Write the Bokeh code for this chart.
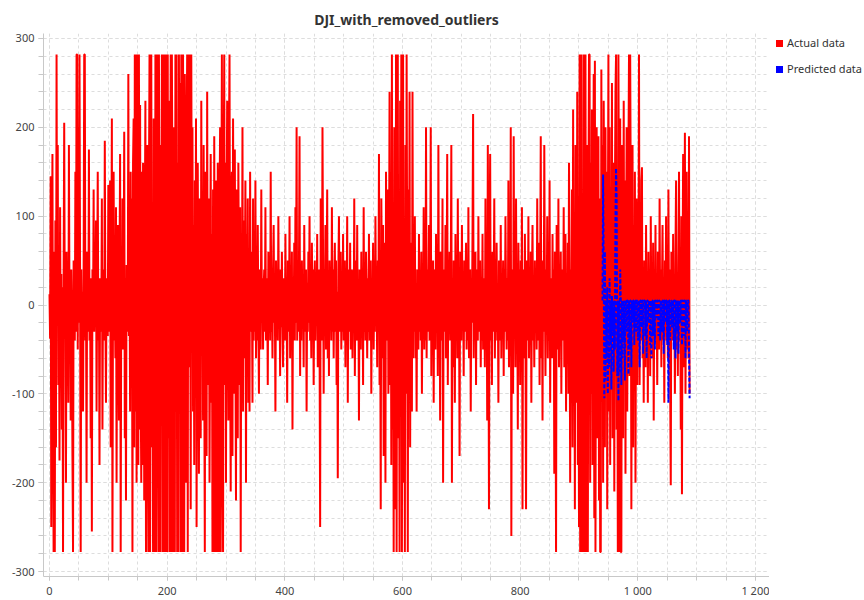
from bokeh.plotting import figure
from bokeh.models import Range1d, FixedTicker, Div
from bokeh.layouts import row
from bokeh.embed import file_html
from bokeh.resources import INLINE

title_text = "DJI_with_removed_outliers"
series_names = ["Actual data", "Predicted data"]
series_colors = ["#ff0000", "#0000ff"]
x_ticks = [0, 200, 400, 600, 800, 1000, 1200]
x_tick_labels = ["0", "200", "400", "600", "800", "1 000", "1 200"]
y_ticks = [-300, -200, -100, 0, 100, 200, 300]
y_tick_labels = ["-300", "-200", "-100", "0", "100", "200", "300"]

actual_values = [
    12, -38, 145, -250, 30, 170, -120, -278, 60, -278, 95, -160, 282, -20, 180, -90, 40, -175, 110, -60,
    35, -140, 20, -278, 30, 205, -20, 10, -200, 60, -30, 25, -110, 180, -15, 25, -130, 40, -10, -170,
    -278, 50, 20, -40, 150, -30, 282, 282, -50, 200, -20, 282, 30, -278, 40, -30, 15, -120, 35, 282,
    282, -40, 30, -200, 60, 10, -30, 175, -40, 20, -150, 30, -255, 40, -20, 130, -30, 15, -20, 95,
    -120, 20, 150, -40, 10, -180, 30, 15, -30, 120, -140, 25, 40, -40, 185, -10, -110, 30, 15, -35,
    135, -30, 20, 140, -160, 25, 210, -278, 40, 150, -40, 10, -60, 110, -200, 25, 90, -20, -130, 35,
    170, -278, 30, -40, 120, -50, 20, 195, -150, 30, -220, 45, 30, -30, 260, -35, 45, -120, 150, -20,
    120, -278, 160, 210, -160, 282, -120, 282, -200, 90, 282, -180, 282, -140, 225, -90, -200, 150, -180, 160,
    110, -220, 85, 230, -278, 40, 180, -120, -278, 130, 282, -278, 60, 282, -160, 90, -278, 210, 30, -278,
    282, -278, 140, 282, -90, -278, 282, 50, -278, 180, -40, 282, -278, 100, 282, -278, 282, 160, -278, 282,
    -278, 282, -150, 230, -278, 60, 282, -278, 282, 120, -278, 200, -80, -278, 282, 40, 282, -278, 160, -278,
    282, -90, 250, -278, 282, 70, -278, 282, -160, -278, 260, 40, -200, 180, 282, -278, 282, -70, 282, 150,
    -230, 282, 30, 200, -120, 90, -180, 140, -60, 210, -250, 50, 160, -40, -190, 120, 70, -150, 230, -20,
    100, -130, 180, -60, -278, 150, 30, -170, 240, -90, 60, 120, -200, 20, 170, -110, 80, -278, 130, -278,
    190, -70, -278, 140, 50, -278, 160, -40, -278, 110, 200, -278, 60, 282, -150, -278, 120, 282, -90, 160,
    -200, 100, 230, 40, -130, 180, 282, -60, -210, 120, 150, -170, 210, 30, -100, 175, -40, -220, 130, 70,
    -150, 160, 30, -90, 110, -278, 60, -40, 200, -120, 95, -60, 30, 140, -200, 80, -30, 120, -110, 50,
    -120, 150, -30, 60, 20, -110, 120, -40, 30, -30, 140, -60, 20, -40, 90, -20, -100, 40, 30, -50,
    130, -20, 30, -50, 20, 40, -30, 110, -40, 10, 30, -90, 60, -20, 20, -40, 150, -30, 15, -60,
    40, 90, -20, 10, -120, 50, -30, 20, -40, 100, -10, 30, -80, 40, -25, 60, -20, -70, 30, 20,
    -40, 80, -30, 20, -110, 50, 20, -30, 100, -60, 20, -10, 60, -140, 30, -30, 70, -40, 110, -20,
    200, -40, 20, -30, 40, 190, -80, 30, -40, 50, -20, 30, -70, 90, -30, 10, 40, -120, 25, -30,
    60, -20, 100, -40, 15, -60, 70, -20, 40, -90, 20, 50, -40, 25, -20, 80, -70, 15, 40, -30,
    -250, 120, 30, -40, 200, 50, -100, 40, -20, 90, -50, 20, 130, -60, 30, -80, 50, -10, 30, -40,
    110, -30, 40, -60, 20, 70, -30, 50, -90, 15, -195, 40, 100, -30, 10, 60, -50, 25, -30, 80,
    -40, 20, 50, -70, 30, -20, 100, -110, 40, 20, -30, 70, -50, 20, 40, -60, 25, -30, 120, -80,
    20, 50, -40, 90, -30, 25, -130, 40, 10, -50, 60, -20, 30, -90, 110, -30, 20, -40, 60, 15,
    -60, 30, -30, 80, -40, 20, 50, -100, 30, -20, 70, -50, 40, -30, 100, -10, 20, -70, 50, -30,
    170, -90, 30, -230, 120, 40, -60, 90, -170, 25, 70, -200, 150, -40, 30, 130, -100, 20, 240, -90,
    100, -180, 282, -140, 60, -278, 200, 40, -230, 282, -278, 120, 282, -150, 80, -278, 230, -60, 282, -278,
    150, 282, -200, 60, -278, 180, -100, 282, 40, -278, 130, -90, 240, -160, 70, 20, -120, 240, -60, 90,
    -30, 100, -60, 20, -120, 40, 20, -50, 80, -30, 30, -40, 60, -100, 25, -20, 110, -50, 30, -40,
    200, -60, 40, -30, 20, 90, -40, 10, 200, -80, 30, -30, 50, -110, 40, 20, -50, 80, -20, 40,
    -80, 180, -30, 20, -130, 60, 10, -40, 120, -200, 30, 40, -30, 90, -60, 20, 170, -90, 30, -30,
    60, -40, 20, 180, -200, 30, -70, 50, 20, -110, 80, -30, 40, -60, 120, -40, 20, -170, 60, 30,
    -40, 90, -20, 30, -80, 50, -30, 20, 70, -50, 10, -40, 110, -60, 30, 40, -120, 20, -20, 80,
    215, -60, 30, -30, 60, -90, 40, 20, -40, 100, -30, 10, 50, -70, 20, -40, 80, -50, 30, 20,
    -70, 120, -30, 40, -130, 180, 30, -230, 70, 170, -40, 20, -90, 60, -30, 20, 120, -60, 30, -30,
    70, -40, 20, -110, 50, 20, -40, 90, -60, 30, -20, 50, -80, 40, -30, 100, 10, -50, 30, -40,
    140, -70, 30, -40, 200, -260, 40, 20, -100, 190, -30, 20, -70, 120, -40, 30, -140, 70, -20, 40,
    -90, 50, -30, 110, -230, 40, 20, -60, 80, -30, -230, 50, 30, -40, 100, -60, 20, -20, 60, -110,
    30, 90, -40, 20, -70, 50, -30, 30, -50, 120, -40, 10, 70, -90, 40, 190, -60, 20, -130, 50,
    -30, 180, 20, -80, 40, -30, 100, -60, 30, -40, 140, -110, 30, 20, -60, 80, -30, 40, -190, 60,
    -40, -278, 90, 20, -50, 120, -70, 30, -20, 60, -100, 40, 20, -40, 110, -70, 20, 80, -120, 30,
    -30, 70, -100, 160, 20, -200, 40, -40, 130, -160, 220, -90, 40, -230, 180, 70, -110, 240, -180, 60,
    -250, 282, -278, 150, 282, -278, 60, -278, 282, 200, -278, 282, -150, -278, 180, -278, 100, 282, 282, -200,
    160, -100, 220, -180, 60, 260, -240, 275, -278, 90, 200, -150, 40, 190, -220, 120, -278, -278, 265, -80,
    180, -200, 230, 40, -160, 200, -90, 150, -230, 60, 282, -120, 200, -180, 100, -60, 250, -150, 30, 160,
    -210, 120, 240, 282, -140, 60, -278, 282, 100, -278, 210, -278, -278, 180, 90, -150, 230, -60, 140, -190,
    60, 200, -120, 30, 160, 282, -80, 282, 120, -230, 40, 180, -160, 90, -60, 150, -200, 30, 120, -90,
    40, -30, 282, -90, 70, -40, 140, 155, -60, 20, -110, 50, 20, -70, 90, -30, 30, -110, 60, -20,
    40, -80, 100, -30, 20, -60, 70, -130, 30, -30, 90, -40, 20, -90, 60, 10, -50, 120, -30, 40,
    -70, 20, 90, -40, 20, -110, 50, -30, 100, -40, 30, -60, 130, -20, 40, -90, -203, 60, 20, -40,
    80, -30, 20, -100, 60, 140, -50, 20, -80, 40, 150, -40, 20, -140, 100, -213, 30, 170, -70, 40,
    194, -100, 30, 150, -50, 80, -60, 190, -100,
]
actual_x = list(range(len(actual_values)))

predicted_start = 940
predicted_values = [
    5, 147, 40, -105, 60, -85, 5, -60, 20, -100, 5, -70, 30, -40, 5, -95, 10, -30, 5, -75,
    5, -50, 100, 154, 120, -80, 5, -108, 5, -75, 40, 5, -90, 5, -60, 5, -40, 5, -85, 5,
    5, -30, 5, 5, -78, 5, -50, 5, 5, -70, 5, -20, 5, 5, -45, 5, 5, -30, 5, 5,
    -40, 5, 5, -70, 5, 5, -25, 5, 5, -55, 5, 5, 5, -35, 5, -60, 5, 5, -20, 5,
    5, -45, 5, -60, 5, 5, -35, 5, 5, -50, 5, 5, -15, 5, 5, -35, 5, 5, -40, 5,
    5, -30, 5, 5, -55, 5, 5, -20, 5, 5, -45, 5, -110, 5, 5, -40, 5, 5, -25, 5,
    5, -50, 5, 5, -60, 5, 5, -30, 5, -55, 5, 5, -20, 5, 5, -45, 5, 5, -35, 5,
    5, -60, 5, 5, -30, 5, 5, -50, -105,
]
predicted_x = [predicted_start + i for i in range(len(predicted_values))]

FONT = "Noto Sans"

p = figure(width=769, height=600, output_backend="svg", toolbar_location=None,
           x_range=Range1d(-10.2, 1223.8), y_range=Range1d(-305.6, 305.6),
           min_border_left=43, min_border_right=0, min_border_top=33, min_border_bottom=24)

p.title.text = title_text
p.title.text_font = FONT
p.title.text_font_size = "14px"
p.title.text_font_style = "bold"
p.title.text_color = "#333333"
p.title.align = "center"

p.outline_line_color = None
p.background_fill_color = "white"

p.line(actual_x, actual_values, line_color=series_colors[0], line_width=2)
p.line(predicted_x, predicted_values, line_color=series_colors[1], line_width=2, line_dash="4 2")

p.xaxis.ticker = FixedTicker(ticks=x_ticks, minor_ticks=list(range(0, 1201, 50)))
p.yaxis.ticker = FixedTicker(ticks=y_ticks, minor_ticks=list(range(-300, 301, 20)))
p.xaxis.major_label_overrides = dict(zip(x_ticks, x_tick_labels))
p.yaxis.major_label_overrides = dict(zip(y_ticks, y_tick_labels))

for ax in (p.xaxis, p.yaxis):
    ax.axis_line_color = "#c8c8c8"
    ax.major_tick_line_color = "#c8c8c8"
    ax.minor_tick_line_color = "#c8c8c8"
    ax.major_tick_in = 0
    ax.minor_tick_in = 0
    ax.major_label_text_font = FONT
    ax.major_label_text_font_size = "11px"
    ax.major_label_text_color = "#444444"
p.xaxis.major_tick_out = 4
p.xaxis.minor_tick_out = 4
p.xaxis.major_label_standoff = 2
p.yaxis.major_tick_out = 5
p.yaxis.minor_tick_out = 5
p.yaxis.major_label_standoff = 4

for g in (p.xgrid, p.ygrid):
    g.grid_line_color = "#dddddd"
    g.grid_line_dash = "3 3"
    g.minor_grid_line_color = "#dddddd"
    g.minor_grid_line_dash = "3 3"

# HTML legend placed to the right of the plot area
items_html = "".join(
    f'<div style="display:flex;align-items:center;height:14px;margin-bottom:12px;white-space:nowrap;">'
    f'<span style="display:inline-block;width:7px;height:7px;background:{c};margin-right:4px;"></span>'
    f'<span>{n}</span></div>'
    for n, c in zip(series_names, series_colors)
)
legend_html = (f'<div style="font-family:\'Noto Sans\';font-size:11px;color:#333333;'
               f'padding-top:36px;padding-left:7px;">{items_html}</div>')
legend_div = Div(text=legend_html, width=95, height=600, margin=0)

layout = row(p, legend_div, spacing=0)
open("out.html", "w").write(file_html(layout, INLINE))
